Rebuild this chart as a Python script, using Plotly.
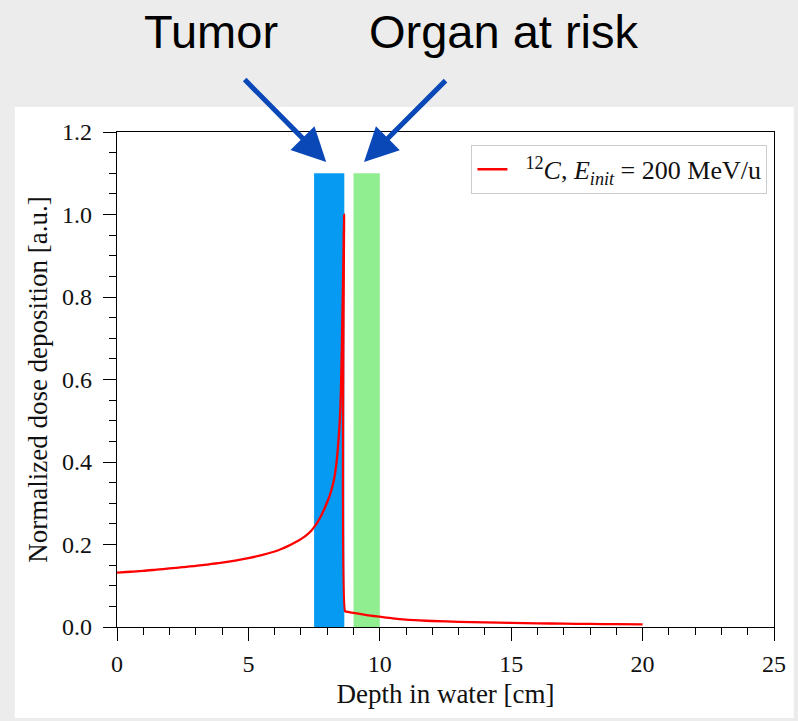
import plotly.graph_objects as go

# ---- data ----
depth_cm = [0, 0.5, 1, 1.5, 2, 2.5, 3, 3.5, 4, 4.5, 5, 5.5, 6, 6.25, 6.5, 6.75,
            7.0, 7.2, 7.4, 7.5, 7.6, 7.7, 7.8, 7.9, 8.0, 8.1, 8.2, 8.25, 8.3, 8.35,
            8.4, 8.45, 8.5, 8.53, 8.56, 8.58, 8.6, 8.62, 8.64,
            8.68, 8.72, 9.0, 9.5, 10, 10.5, 11, 11.5, 12, 13, 14, 15, 16, 17, 18, 19, 20]
dose = [0.132, 0.134, 0.136, 0.139, 0.142, 0.145, 0.148, 0.152, 0.156, 0.161, 0.167,
        0.174, 0.183, 0.189, 0.196, 0.204,
        0.213, 0.222, 0.234, 0.242, 0.251, 0.262, 0.274, 0.288, 0.303, 0.320,
        0.342, 0.356, 0.373, 0.397,
        0.430, 0.472, 0.530, 0.600, 0.690, 0.760, 0.830, 0.910, 1.000,
        0.038, 0.0375, 0.034, 0.029, 0.025, 0.021, 0.018, 0.016, 0.0145, 0.0125, 0.011,
        0.0098, 0.0089, 0.0081, 0.0074, 0.0069, 0.0065]

region_names = ["Tumor", "Organ at risk"]
region_start = [7.5, 9.0]
region_end = [8.65, 10.0]
region_height = [1.1, 1.1]
region_colors = ["#069af3", "#90ee90"]

x_ticks = [0, 5, 10, 15, 20, 25]
y_ticks = [0.0, 0.2, 0.4, 0.6, 0.8, 1.0, 1.2]
legend_label = "&nbsp;&nbsp;<sup>12</sup><i>C</i>, <i>E</i><sub><i>init</i></sub> = 200 MeV/u"

SERIF = "Liberation Serif"
SANS = "Liberation Sans"
TXT = "#111111"

fig = go.Figure()

fig.add_trace(go.Bar(
    x=[(s + e) / 2 for s, e in zip(region_start, region_end)],
    y=region_height,
    width=[e - s for s, e in zip(region_start, region_end)],
    base=0,
    marker=dict(color=region_colors, line=dict(width=0)),
    showlegend=False,
    hoverinfo="skip",
))

fig.add_trace(go.Scatter(
    x=depth_cm, y=dose, mode="lines",
    line=dict(color="#ff0000", width=2.3, shape="spline", smoothing=0.7),
    name=legend_label,
))

axis_common = dict(
    showline=True, linecolor="black", linewidth=1.3, mirror=True,
    ticks="outside", ticklen=13, tickwidth=1.3, tickcolor="black",
    showgrid=False, zeroline=False,
    tickfont=dict(family=SERIF, size=24, color=TXT),
)

fig.update_xaxes(
    range=[0, 25], tickvals=x_ticks, ticktext=[str(v) for v in x_ticks],
    minor=dict(dtick=1, ticks="outside", ticklen=7, tickwidth=1.3, tickcolor="black"),
    title=dict(text="Depth in water [cm]", font=dict(family=SERIF, size=27, color=TXT), standoff=8),
    ticklabelstandoff=2,
    **axis_common,
)
fig.update_yaxes(
    range=[0, 1.2], tickvals=y_ticks, ticktext=[f"{v:.1f}" for v in y_ticks],
    minor=dict(dtick=0.05, ticks="outside", ticklen=7, tickwidth=1.3, tickcolor="black"),
    title=dict(text="Normalized dose deposition [a.u.]", font=dict(family=SERIF, size=27, color=TXT), standoff=6),
    ticklabelstandoff=6,
    **axis_common,
)

# white panel over grey page
fig.add_shape(type="rect", xref="paper", yref="paper",
              x0=-0.1556, x1=1.03, y0=-0.1838, y1=1.0505,
              fillcolor="white", line=dict(width=0), layer="below")

# arrows pointing at the two regions
arrow_color = "#0a48b8"
arrow_offsets = [(-83, -84), (83, -83)]
tip_shift = [0.46, 0.40]
for i in range(len(region_names)):
    fig.add_annotation(
        x=region_start[i] + tip_shift[i], y=region_height[i] + 0.027, xref="x", yref="y",
        ax=arrow_offsets[i][0], ay=arrow_offsets[i][1], axref="pixel", ayref="pixel",
        text="", showarrow=True, arrowhead=2, arrowsize=1.35, arrowwidth=5,
        arrowcolor=arrow_color, standoff=0,
    )

# labels above arrows
label_x_px = [211.5, 507]
for name, px in zip(region_names, label_x_px):
    fig.add_annotation(x=(px - 117) / 662, y=1.204, xref="paper", yref="paper",
                       text=name, showarrow=False,
                       font=dict(family=SANS, size=47, color="black"),
                       xanchor="center", yanchor="middle")

fig.update_layout(
    width=798, height=721,
    margin=dict(l=117, r=19, t=132, b=94),
    paper_bgcolor="#ececec", plot_bgcolor="white",
    barmode="overlay",
    showlegend=True,
    legend=dict(
        x=0.99, y=0.974, xanchor="right", yanchor="top",
        bgcolor="white", bordercolor="#cccccc", borderwidth=1,
        font=dict(family=SERIF, size=26, color=TXT),
    ),
)

fig.write_html("out.html")
